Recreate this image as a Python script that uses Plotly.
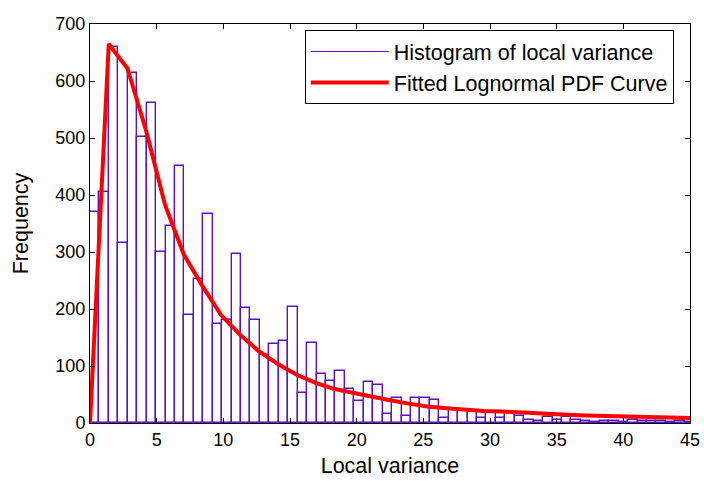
import plotly.graph_objects as go

# Histogram of local variance (64 bins, width ~0.708)
bin_start = 0.0
bin_width = 0.708
counts = [370, 405, 659, 315, 614, 502, 562, 300, 345, 451,
          189, 252, 367, 174, 180, 297, 201, 180, 120, 138,
          144, 203, 53, 140, 86, 74, 92, 59, 38, 72,
          67, 16, 44, 13, 44, 44, 41, 8, 22, 22,
          21, 8, 17, 8, 17, 12, 6, 3, 10, 5,
          10, 6, 3, 1, 4, 3, 2, 6, 3, 3,
          3, 2, 3, 2]

# Fitted lognormal PDF curve (scaled)
fit_x = [0, 1.406, 2.813, 4.219, 5.625, 7.031, 8.438, 9.844, 11.25, 12.656,
         14.063, 15.469, 16.875, 18.281, 19.688, 21.094, 22.5, 23.906, 25.313, 26.719,
         28.125, 29.531, 30.938, 32.344, 33.75, 35.156, 36.563, 37.969, 39.375, 40.781,
         42.188, 43.594, 45.0]
fit_y = [0, 665, 622, 512, 383, 296, 240, 189, 155, 126,
         104, 85, 71, 60, 53, 46, 40, 34, 29, 26,
         23, 21, 20, 18, 16, 14.5, 13.5, 12.5, 11.5, 10.5,
         9.8, 9.2, 8.8]

x_ticks = [0, 5, 10, 15, 20, 25, 30, 35, 40, 45]
y_ticks = [0, 100, 200, 300, 400, 500, 600, 700]

purple = "#5a12c2"
font_family = "Liberation Sans, Arial, sans-serif"

fig = go.Figure()

fig.add_trace(go.Bar(
    x0=bin_start + bin_width / 2, dx=bin_width, y=counts,
    marker=dict(color="rgba(255,255,255,0)", line=dict(color=purple, width=1.4)),
    showlegend=False, name="Histogram of local variance",
))
# legend entry drawn as a thin line, as in the original
fig.add_trace(go.Scatter(
    x=[None], y=[None], mode="lines",
    line=dict(color=purple, width=1),
    name="Histogram of local variance",
))
fig.add_trace(go.Scatter(
    x=fit_x, y=fit_y, mode="lines",
    line=dict(color="#ff0000", width=4),
    name="Fitted Lognormal PDF Curve",
))

axis_common = dict(
    showline=True, linecolor="black", linewidth=1, mirror="allticks",
    ticks="inside", ticklen=5, tickcolor="black", showgrid=False, zeroline=False,
    automargin=False,
    tickfont=dict(size=18, color="black", family=font_family),
)

fig.update_layout(
    width=704, height=481,
    margin=dict(l=90, r=14, t=24, b=58),
    paper_bgcolor="white", plot_bgcolor="white",
    font=dict(family=font_family, size=21.5, color="black"),
    bargap=0,
    xaxis=dict(range=[0, 45], tickvals=x_ticks,
               title=dict(text="Local variance", font=dict(size=21.5), standoff=9),
               **axis_common),
    yaxis=dict(range=[0, 700], tickvals=y_ticks,
               title=dict(text="Frequency", font=dict(size=21.5), standoff=20),
               **axis_common),
    legend=dict(x=0.358, y=0.985, xanchor="left", yanchor="top",
                bgcolor="white", bordercolor="black", borderwidth=1,
                font=dict(size=21.5, family=font_family), itemwidth=78,
                tracegroupgap=0),
)

fig.write_html("out.html")
